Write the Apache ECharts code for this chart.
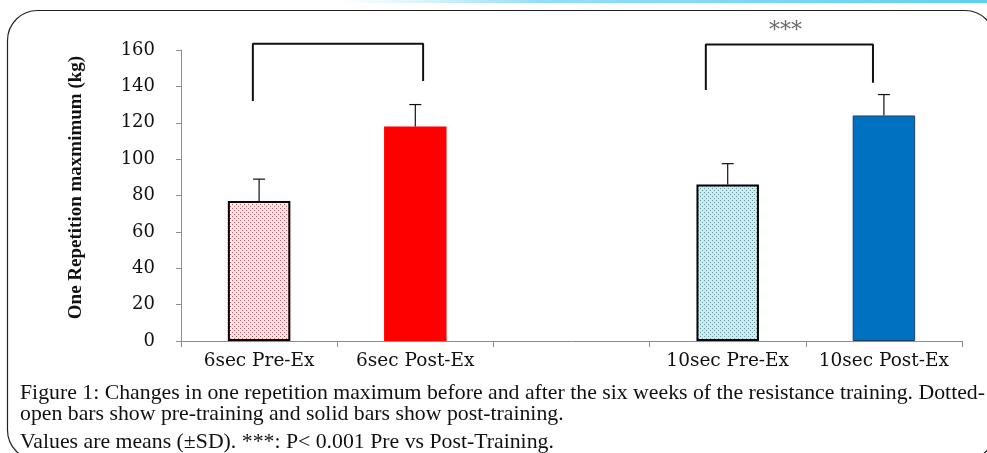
<!DOCTYPE html>
<html>
<head>
<meta charset="utf-8">
<script src="https://cdn.jsdelivr.net/npm/echarts@6/dist/echarts.min.js"></script>
<style>
  html, body { margin: 0; padding: 0; background: #fff; }
  #chart { width: 987px; height: 453px; }
</style>
</head>
<body>
<div id="chart"></div>
<script>
// Groups on the x axis (the empty slot separates the 6 s and 10 s protocols)
const categories = ['6sec Pre-Ex', '6sec Post-Ex', '', '10sec Pre-Ex', '10sec Post-Ex'];
// Mean one-repetition maximum (kg)
const means = [77, 118, null, 86, 124];
// Standard deviation (kg), drawn upward only
const sds = [12, 12, null, 11.5, 11.5];
// Y axis ticks
const yTicks = [0, 20, 40, 60, 80, 100, 120, 140, 160];

// Significance brackets: [x (category units), y (kg)]
const bracket6 = [[-0.04, 132], [-0.04, 163.5], [1.05, 163.5], [1.05, 143]];
const bracket10 = [[2.86, 138], [2.86, 163], [3.93, 163], [3.93, 142]];
const starMark = [[3.37, 170.5]];
const starText = '***';

const captionLines = [
  'Figure 1: Changes in one repetition maximum before and after the six weeks of the resistance training. Dotted-',
  'open bars show pre-training and solid bars show post-training.',
  'Values are means (\u00B1SD). ***: P< 0.001 Pre vs Post-Training.'
];

function dotPattern(dot, bg) {
  const c = document.createElement('canvas');
  c.width = 4; c.height = 4;
  const g = c.getContext('2d');
  g.fillStyle = bg; g.fillRect(0, 0, 4, 4);
  g.fillStyle = dot;
  g.fillRect(0, 0, 1, 1);
  g.fillRect(2, 2, 1, 1);
  return c;
}

const pinkDots = { image: dotPattern('#d9555e', '#fbeeee'), repeat: 'repeat' };
const tealDots = { image: dotPattern('#5f9aa6', '#d6e8ea'), repeat: 'repeat' };

const barStyles = [
  { color: pinkDots, borderColor: '#000', borderWidth: 2 },
  { color: '#ff0000', borderColor: '#e00000', borderWidth: 0 },
  null,
  { color: tealDots, borderColor: '#000', borderWidth: 2 },
  { color: '#0070c0', borderColor: '#1d3f66', borderWidth: 1 }
];

const barData = means.map((v, i) => v == null ? null : { value: v, itemStyle: barStyles[i] });
const errData = means.map((v, i) => v == null ? null : [i, v, v + sds[i]]).filter(d => d);

// Caption is stretched horizontally so its first line spans the frame width
const captionFont = '21px "Liberation Serif"';
const measureCtx = document.createElement('canvas').getContext('2d');
measureCtx.font = captionFont;
const captionScale = 965 / measureCtx.measureText(captionLines[0]).width;
const captionTops = [383, 404, 432];

const chart = echarts.init(document.getElementById('chart'), null, { renderer: 'canvas' });

const axisFont = 'DejaVu Serif';

chart.setOption({
  animation: false,
  backgroundColor: '#fff',
  grid: { left: 181, right: 25, top: 50, bottom: 112, containLabel: false },
  xAxis: [
    {
      type: 'category',
      data: categories,
      boundaryGap: true,
      axisLine: { lineStyle: { color: '#8c8c8c', width: 1 } },
      axisTick: { show: true, length: 6, lineStyle: { color: '#8c8c8c' }, interval: 0 },
      axisLabel: { interval: 0, color: '#111', fontFamily: axisFont, fontSize: 18.5, margin: 11 },
      splitLine: { show: false }
    },
    {
      type: 'value', min: -0.5, max: 4.5, show: false
    }
  ],
  yAxis: {
    type: 'value',
    min: 0, max: 160, interval: 20,
    axisLine: { show: true, onZero: false, lineStyle: { color: '#8c8c8c', width: 1 } },
    axisTick: { show: true, length: 5, lineStyle: { color: '#8c8c8c' } },
    axisLabel: {
      color: '#111', fontFamily: axisFont, fontSize: 18, margin: 26,
      formatter: v => yTicks.includes(v) ? String(v) : ''
    },
    splitLine: { show: false },
    name: 'One Repetition maxmimum (kg)',
    nameLocation: 'middle',
    nameGap: 95,
    nameTextStyle: { fontFamily: 'Liberation Serif', fontWeight: 'bold', fontSize: 19, color: '#111',
                     padding: [0, 0, 0, 16] }
  },
  series: [
    {
      type: 'bar',
      data: barData,
      barWidth: '40%',
      xAxisIndex: 0
    },
    {
      type: 'custom',
      xAxisIndex: 0,
      data: errData,
      z: 5,
      renderItem: function (params, api) {
        const base = api.coord([api.value(0), api.value(1)]);
        const top = api.coord([api.value(0), api.value(2)]);
        const half = 6;
        return {
          type: 'group',
          children: [
            { type: 'line', shape: { x1: base[0], y1: base[1], x2: top[0], y2: top[1] },
              style: { stroke: '#111', lineWidth: 1.2 } },
            { type: 'line', shape: { x1: top[0] - half, y1: top[1], x2: top[0] + half, y2: top[1] },
              style: { stroke: '#111', lineWidth: 1.2 } }
          ]
        };
      }
    },
    {
      type: 'line', xAxisIndex: 1, data: bracket6, clip: false, symbol: 'none',
      lineStyle: { color: '#111', width: 2 }, z: 6
    },
    {
      type: 'line', xAxisIndex: 1, data: bracket10, clip: false, symbol: 'none',
      lineStyle: { color: '#111', width: 2 }, z: 6
    },
    {
      type: 'scatter', xAxisIndex: 1, data: starMark, clip: false, symbolSize: 0,
      label: { show: true, position: 'inside', formatter: starText, color: '#444',
               fontFamily: axisFont, fontSize: 22 }
    }
  ],
  graphic: [
    {
      type: 'rect', left: 340, top: 0, z: -1,
      shape: { width: 647, height: 3 },
      style: { fill: new echarts.graphic.LinearGradient(0, 0, 1, 0, [
        { offset: 0, color: 'rgba(150,225,245,0)' },
        { offset: 0.3, color: 'rgba(120,215,245,0.8)' },
        { offset: 1, color: '#5fd0f0' }
      ]) }
    },
    {
      type: 'rect', z: -1,
      shape: { x: 7.5, y: 10.5, width: 987.5, height: 449.5, r: 30 },
      style: { fill: 'none', stroke: '#222', lineWidth: 1.2 }
    }
  ].concat(captionLines.map((line, i) => ({
    type: 'text', x: 20, y: captionTops[i], scaleX: captionScale,
    style: { text: line, font: captionFont, fill: '#111', x: 0, y: 0, verticalAlign: 'top' }
  })))
});
</script>
</body>
</html>
